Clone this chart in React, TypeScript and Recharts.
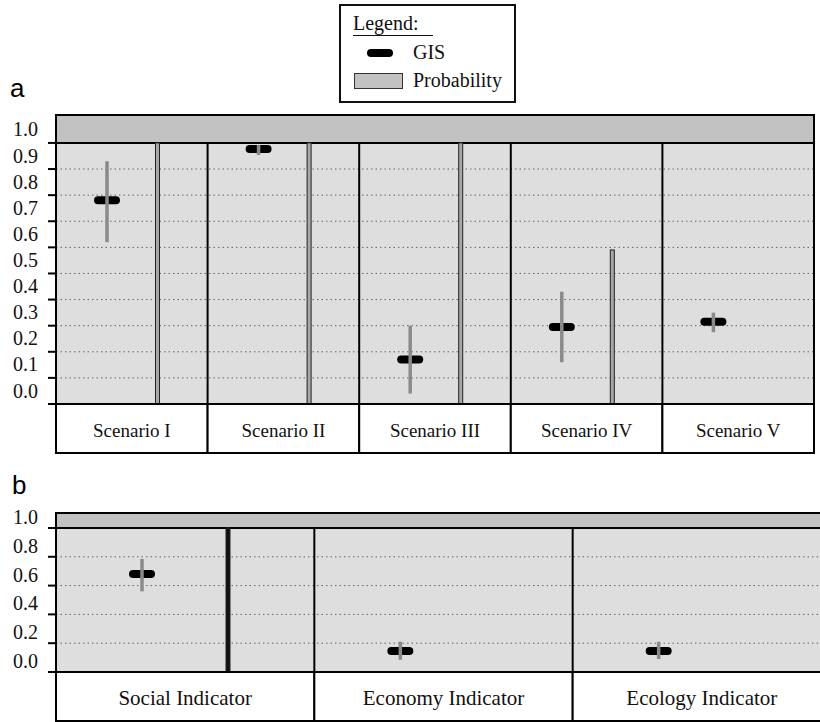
import { ComposedChart, Bar, ErrorBar, XAxis, YAxis, CartesianGrid, ReferenceArea } from "recharts";

const SERIF = '"Liberation Serif", "Times New Roman", serif';
const SANS = '"Liberation Sans", Arial, sans-serif';

// ── panel a: scenarios ─────────────────────────────────────────────────────
const SCENARIOS = ["Scenario I", "Scenario II", "Scenario III", "Scenario IV", "Scenario V"];
const SCENARIO_GIS = [0.78, 0.977, 0.17, 0.295, 0.315];
const SCENARIO_GIS_LOW = [0.62, 0.954, 0.04, 0.16, 0.275];
const SCENARIO_GIS_HIGH = [0.93, 0.992, 0.3, 0.43, 0.35];
const SCENARIO_PROB = [1.0, 1.0, 1.0, 0.59, 0];
const SCENARIO_TICKS = [0, 0.1, 0.2, 0.3, 0.4, 0.5, 0.6, 0.7, 0.8, 0.9, 1.0];

// ── panel b: indicators ────────────────────────────────────────────────────
const INDICATORS = ["Social Indicator", "Economy Indicator", "Ecology Indicator"];
const INDICATOR_GIS = [0.68, 0.145, 0.145];
const INDICATOR_GIS_LOW = [0.56, 0.085, 0.09];
const INDICATOR_GIS_HIGH = [0.785, 0.21, 0.21];
const INDICATOR_PROB = [1.0, 0, 0];
const INDICATOR_TICKS = [0, 0.2, 0.4, 0.6, 0.8, 1.0];

type Row = { name: string; gis: number; err: [number, number]; prob: number };

function buildRows(names: string[], gis: number[], low: number[], high: number[], prob: number[]): Row[] {
  return names.map((name, i) => ({
    name,
    gis: gis[i],
    err: [gis[i] - low[i], high[i] - gis[i]],
    prob: prob[i],
  }));
}

// GIS marker: black pill at the value
function GisMark(props: any) {
  const { x = 0, y = 0, width = 0, payload } = props;
  if (payload?.gis == null) return null;
  const cx = x + width / 2;
  return <rect x={cx - 13} y={y - 4} width={26} height={8} rx={4} fill="#000" />;
}

// Probability: thin outlined bar
function ProbBar(props: any) {
  const { x = 0, y = 0, width = 0, height = 0, payload, barFill } = props;
  if (!payload?.prob) return null;
  return <rect x={x} y={y} width={width} height={height} fill={barFill} stroke="#222" strokeWidth={1} />;
}

function LabelBox(props: any) {
  const { x = 0, y = 0, payload, colW, size } = props;
  return (
    <g>
      <rect x={x - colW / 2} y={y} width={colW} height={49} fill="#fff" stroke="#000" strokeWidth={2} />
      <text x={x} y={y + 26} textAnchor="middle" dominantBaseline="central"
        fontFamily={SERIF} fontSize={size} fill="#111">
        {payload.value}
      </text>
    </g>
  );
}

function Panel(props: {
  rows: Row[]; ticks: number[]; yMax: number; width: number; height: number;
  top: number; marginTop: number; plotWidth: number; barGap: number;
  tickShift: number; labelSize: number; probFill: string;
}) {
  const { rows, ticks, yMax, width, height, top, marginTop, plotWidth, barGap, tickShift, labelSize, probFill } = props;
  const n = rows.length;
  const colW = plotWidth / n;

  // column dividers sit on the category band edges
  const columnEdges = ({ offset }: any) =>
    Array.from({ length: n + 1 }, (_, i) => offset.left + (i * offset.width) / n);

  return (
    <div style={{ position: "absolute", left: 0, top }}>
      <ComposedChart width={width} height={height} data={rows} barGap={barGap}
        margin={{ top: marginTop, right: 6, bottom: 0, left: 0 }}>
        <XAxis dataKey="name" height={50} interval={0} tickLine={false} tickSize={0} tickMargin={0}
          axisLine={{ stroke: "#000", strokeWidth: 2 }}
          tick={(p: any) => <LabelBox {...p} colW={colW} size={labelSize} />} />
        <YAxis type="number" domain={[0, yMax]} ticks={ticks} interval={0} allowDataOverflow width={56}
          tickSize={8} tickMargin={10}
          axisLine={{ stroke: "#000", strokeWidth: 2 }}
          tickLine={{ stroke: "#000", strokeWidth: 2 }}
          tick={(p: any) => (
            <text x={p.x} y={p.y - tickShift} textAnchor="end" dominantBaseline="central"
              fontFamily={SERIF} fontSize={20} fill="#111">
              {Number(p.payload.value).toFixed(1)}
            </text>
          )} />
        <CartesianGrid vertical={false} stroke="#666" strokeDasharray="1.5 3" fill="#dedede" fillOpacity={1} />
        <ReferenceArea y1={1} y2={yMax} fill="#c2c2c2" fillOpacity={1} stroke="#000" strokeWidth={2} />
        <CartesianGrid horizontal={false} stroke="#000" strokeWidth={2}
          verticalCoordinatesGenerator={columnEdges} />
        <Bar dataKey="gis" barSize={4} shape={<GisMark />} isAnimationActive={false}>
          <ErrorBar dataKey="err" width={0} stroke="#8a8a8a" strokeWidth={3.5} direction="y" />
        </Bar>
        <Bar dataKey="prob" barSize={4} shape={<ProbBar barFill={probFill} />} isAnimationActive={false} />
      </ComposedChart>
    </div>
  );
}

export default function App() {
  const scenarioRows = buildRows(SCENARIOS, SCENARIO_GIS, SCENARIO_GIS_LOW, SCENARIO_GIS_HIGH, SCENARIO_PROB);
  const indicatorRows = buildRows(INDICATORS, INDICATOR_GIS, INDICATOR_GIS_LOW, INDICATOR_GIS_HIGH, INDICATOR_PROB);

  return (
    <div style={{ position: "absolute", left: 0, top: 0, width: 820, height: 722, overflow: "hidden", background: "#fff" }}>
      <div style={{ position: "absolute", left: 10, top: 73, fontFamily: SANS, fontSize: 26, lineHeight: "30px" }}>a</div>
      <div style={{ position: "absolute", left: 12, top: 470, fontFamily: SANS, fontSize: 26, lineHeight: "30px" }}>b</div>

      <Panel rows={scenarioRows} ticks={SCENARIO_TICKS} yMax={1.107} width={820} height={349}
        top={105} marginTop={10} plotWidth={758} barGap={46.5} tickShift={13.5} labelSize={19} probFill="#a8a8a8" />

      <Panel rows={indicatorRows} ticks={INDICATOR_TICKS} yMax={1.104} width={837} height={222}
        top={500} marginTop={13} plotWidth={775} barGap={82} tickShift={11} labelSize={21} probFill="#111" />

      {/* legend */}
      <div style={{ position: "absolute", left: 339, top: 4, width: 173, height: 95, border: "2px solid #111",
        background: "#fff", fontFamily: SERIF, fontSize: 20, color: "#111" }}>
        <div style={{ position: "absolute", left: 12, top: 5, lineHeight: "24px" }}>Legend:</div>
        <div style={{ position: "absolute", left: 12, top: 29, width: 80, borderTop: "1.5px solid #111" }} />
        <div style={{ position: "absolute", left: 26, top: 43, width: 26, height: 8, borderRadius: 4, background: "#000" }} />
        <div style={{ position: "absolute", left: 72, top: 34, lineHeight: "24px" }}>GIS</div>
        <div style={{ position: "absolute", left: 13, top: 67, width: 47, height: 14, background: "#c2c2c2", border: "1.5px solid #333" }} />
        <div style={{ position: "absolute", left: 72, top: 62, lineHeight: "24px" }}>Probability</div>
      </div>
    </div>
  );
}
